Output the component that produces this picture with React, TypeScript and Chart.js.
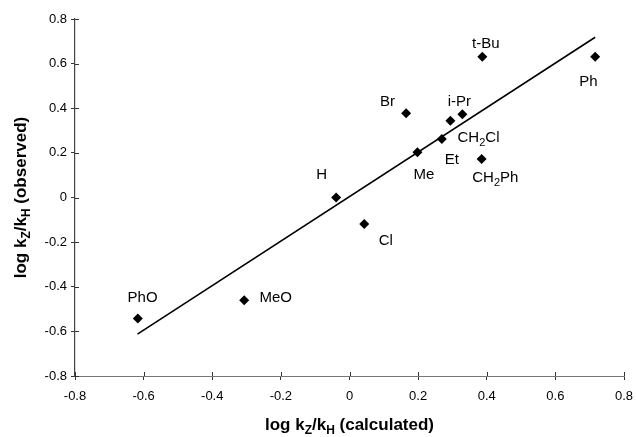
import React, { useEffect, useRef } from "react";
import { Chart, registerables } from "chart.js";

Chart.register(...registerables);

// Substituent Z, calculated vs observed log kZ/kH
const substituents = ["PhO", "MeO", "H", "Cl", "Me", "Et", "CH_2Cl", "i-Pr", "Br", "CH_2Ph", "t-Bu", "Ph"];
const calculated = [-0.617, -0.307, -0.039, 0.043, 0.198, 0.269, 0.294, 0.329, 0.165, 0.385, 0.387, 0.716];
const observed = [-0.542, -0.46, 0.0, -0.119, 0.203, 0.262, 0.344, 0.373, 0.378, 0.173, 0.631, 0.631];

// label anchor points (data units)
const labelX = [-0.603, -0.215, -0.081, 0.106, 0.217, 0.298, 0.376, 0.32, 0.111, 0.425, 0.397, 0.696];
const labelY = [-0.445, -0.445, 0.105, -0.187, 0.105, 0.176, 0.273, 0.434, 0.434, 0.093, 0.694, 0.524];

// fitted regression line end points
const fitX = [-0.618, 0.716];
const fitY = [-0.612, 0.718];

const tickValues = [-0.8, -0.6, -0.4, -0.2, 0, 0.2, 0.4, 0.6, 0.8];

const FONT = "'Liberation Sans', Arial, sans-serif";

type Part = { t: string; sub: boolean };

function parseRich(s: string): Part[] {
  // "_X" marks a one-character subscript
  const parts: Part[] = [];
  let buf = "";
  for (let i = 0; i < s.length; i++) {
    if (s[i] === "_" && i + 1 < s.length) {
      if (buf) parts.push({ t: buf, sub: false });
      buf = "";
      parts.push({ t: s[i + 1], sub: true });
      i++;
    } else buf += s[i];
  }
  if (buf) parts.push({ t: buf, sub: false });
  return parts;
}

function drawRich(ctx: CanvasRenderingContext2D, text: string, x: number, y: number, size: number, bold: boolean) {
  const parts = parseRich(text);
  const w = bold ? "bold " : "";
  const subSize = Math.round(size * 0.7);
  let total = 0;
  const widths = parts.map((p) => {
    ctx.font = `${w}${p.sub ? subSize : size}px ${FONT}`;
    const m = ctx.measureText(p.t).width;
    total += m;
    return m;
  });
  let cx = x - total / 2;
  ctx.textBaseline = "alphabetic";
  ctx.textAlign = "left";
  const base = y + size * 0.36;
  parts.forEach((p, i) => {
    ctx.font = `${w}${p.sub ? subSize : size}px ${FONT}`;
    ctx.fillText(p.t, cx, p.sub ? base + size * 0.25 : base);
    cx += widths[i];
  });
}

const decor = {
  id: "decor",
  afterDraw(chart: any) {
    const ctx: CanvasRenderingContext2D = chart.ctx;
    const xs = chart.scales.x;
    const ys = chart.scales.y;
    const area = chart.chartArea;
    ctx.save();
    // inner half of crossing tick marks
    ctx.strokeStyle = "#333";
    ctx.lineWidth = 1;
    ctx.beginPath();
    tickValues.forEach((v) => {
      const py = Math.round(ys.getPixelForValue(v)) + 0.5;
      ctx.moveTo(area.left, py);
      ctx.lineTo(area.left + 4, py);
      const px = Math.round(xs.getPixelForValue(v)) + 0.5;
      ctx.moveTo(px, area.bottom);
      ctx.lineTo(px, area.bottom - 4);
    });
    ctx.stroke();

    // point labels
    ctx.fillStyle = "#000";
    substituents.forEach((s, i) => {
      drawRich(ctx, s, xs.getPixelForValue(labelX[i]), ys.getPixelForValue(labelY[i]), 15, false);
    });

    // axis titles
    const cxm = (area.left + area.right) / 2;
    drawRich(ctx, "log k_Z/k_H (calculated)", cxm, 424, 17, true);
    ctx.save();
    ctx.translate(20, (area.top + area.bottom) / 2);
    ctx.rotate(-Math.PI / 2);
    drawRich(ctx, "log k_Z/k_H (observed)", 0, 0, 17, true);
    ctx.restore();
    ctx.restore();
  },
};

export default function App() {
  const ref = useRef<HTMLCanvasElement | null>(null);
  useEffect(() => {
    document.body.style.margin = "0";
    const canvas = ref.current;
    if (!canvas) return;
    const fmt = (v: any) => {
      const n = Math.round(Number(v) * 10) / 10;
      return n === 0 ? "0" : n.toFixed(1);
    };
    const chart = new Chart(canvas, {
      type: "scatter",
      data: {
        datasets: [
          {
            label: "observed",
            data: calculated.map((c, i) => ({ x: c, y: observed[i] })),
            pointStyle: "rectRot",
            pointRadius: 5,
            backgroundColor: "#000",
            borderColor: "#000",
            borderWidth: 0,
            order: 0,
          },
          {
            label: "fit",
            data: fitX.map((c, i) => ({ x: c, y: fitY[i] })),
            showLine: true,
            pointRadius: 0,
            borderColor: "#000",
            borderWidth: 1.6,
            order: 1,
          },
        ],
      },
      options: {
        animation: false,
        responsive: true,
        maintainAspectRatio: false,
        layout: { padding: { top: 19, right: 0, left: 0, bottom: 0 } },
        plugins: { legend: { display: false }, tooltip: { enabled: false } },
        scales: {
          x: {
            type: "linear",
            min: -0.8,
            max: 0.8,
            afterBuildTicks: (s: any) => {
              s.ticks = tickValues.map((v) => ({ value: v }));
            },
            afterFit: (s: any) => {
              s.height = 61;
              s.paddingRight = 12;
              s.paddingLeft = 0;
            },
            grid: { display: true, drawOnChartArea: false, drawTicks: true, tickLength: 4, color: "#333" },
            border: { display: true, color: "#777", dash: [1, 1], width: 1 },
            ticks: { color: "#000", font: { family: FONT, size: 13 }, padding: 9, callback: fmt, maxRotation: 0 },
          },
          y: {
            type: "linear",
            min: -0.8,
            max: 0.8,
            afterBuildTicks: (s: any) => {
              s.ticks = tickValues.map((v) => ({ value: v }));
            },
            afterFit: (s: any) => {
              s.width = 75;
            },
            grid: { display: true, drawOnChartArea: false, drawTicks: true, tickLength: 4, color: "#333" },
            border: { display: true, color: "#444", width: 1.2 },
            ticks: { color: "#000", font: { family: FONT, size: 13 }, padding: 4, callback: fmt },
          },
        },
      },
      plugins: [decor],
    } as any);
    return () => chart.destroy();
  }, []);
  return (
    <div style={{ width: 636, height: 437, position: "relative" }}>
      <canvas ref={ref} />
    </div>
  );
}
